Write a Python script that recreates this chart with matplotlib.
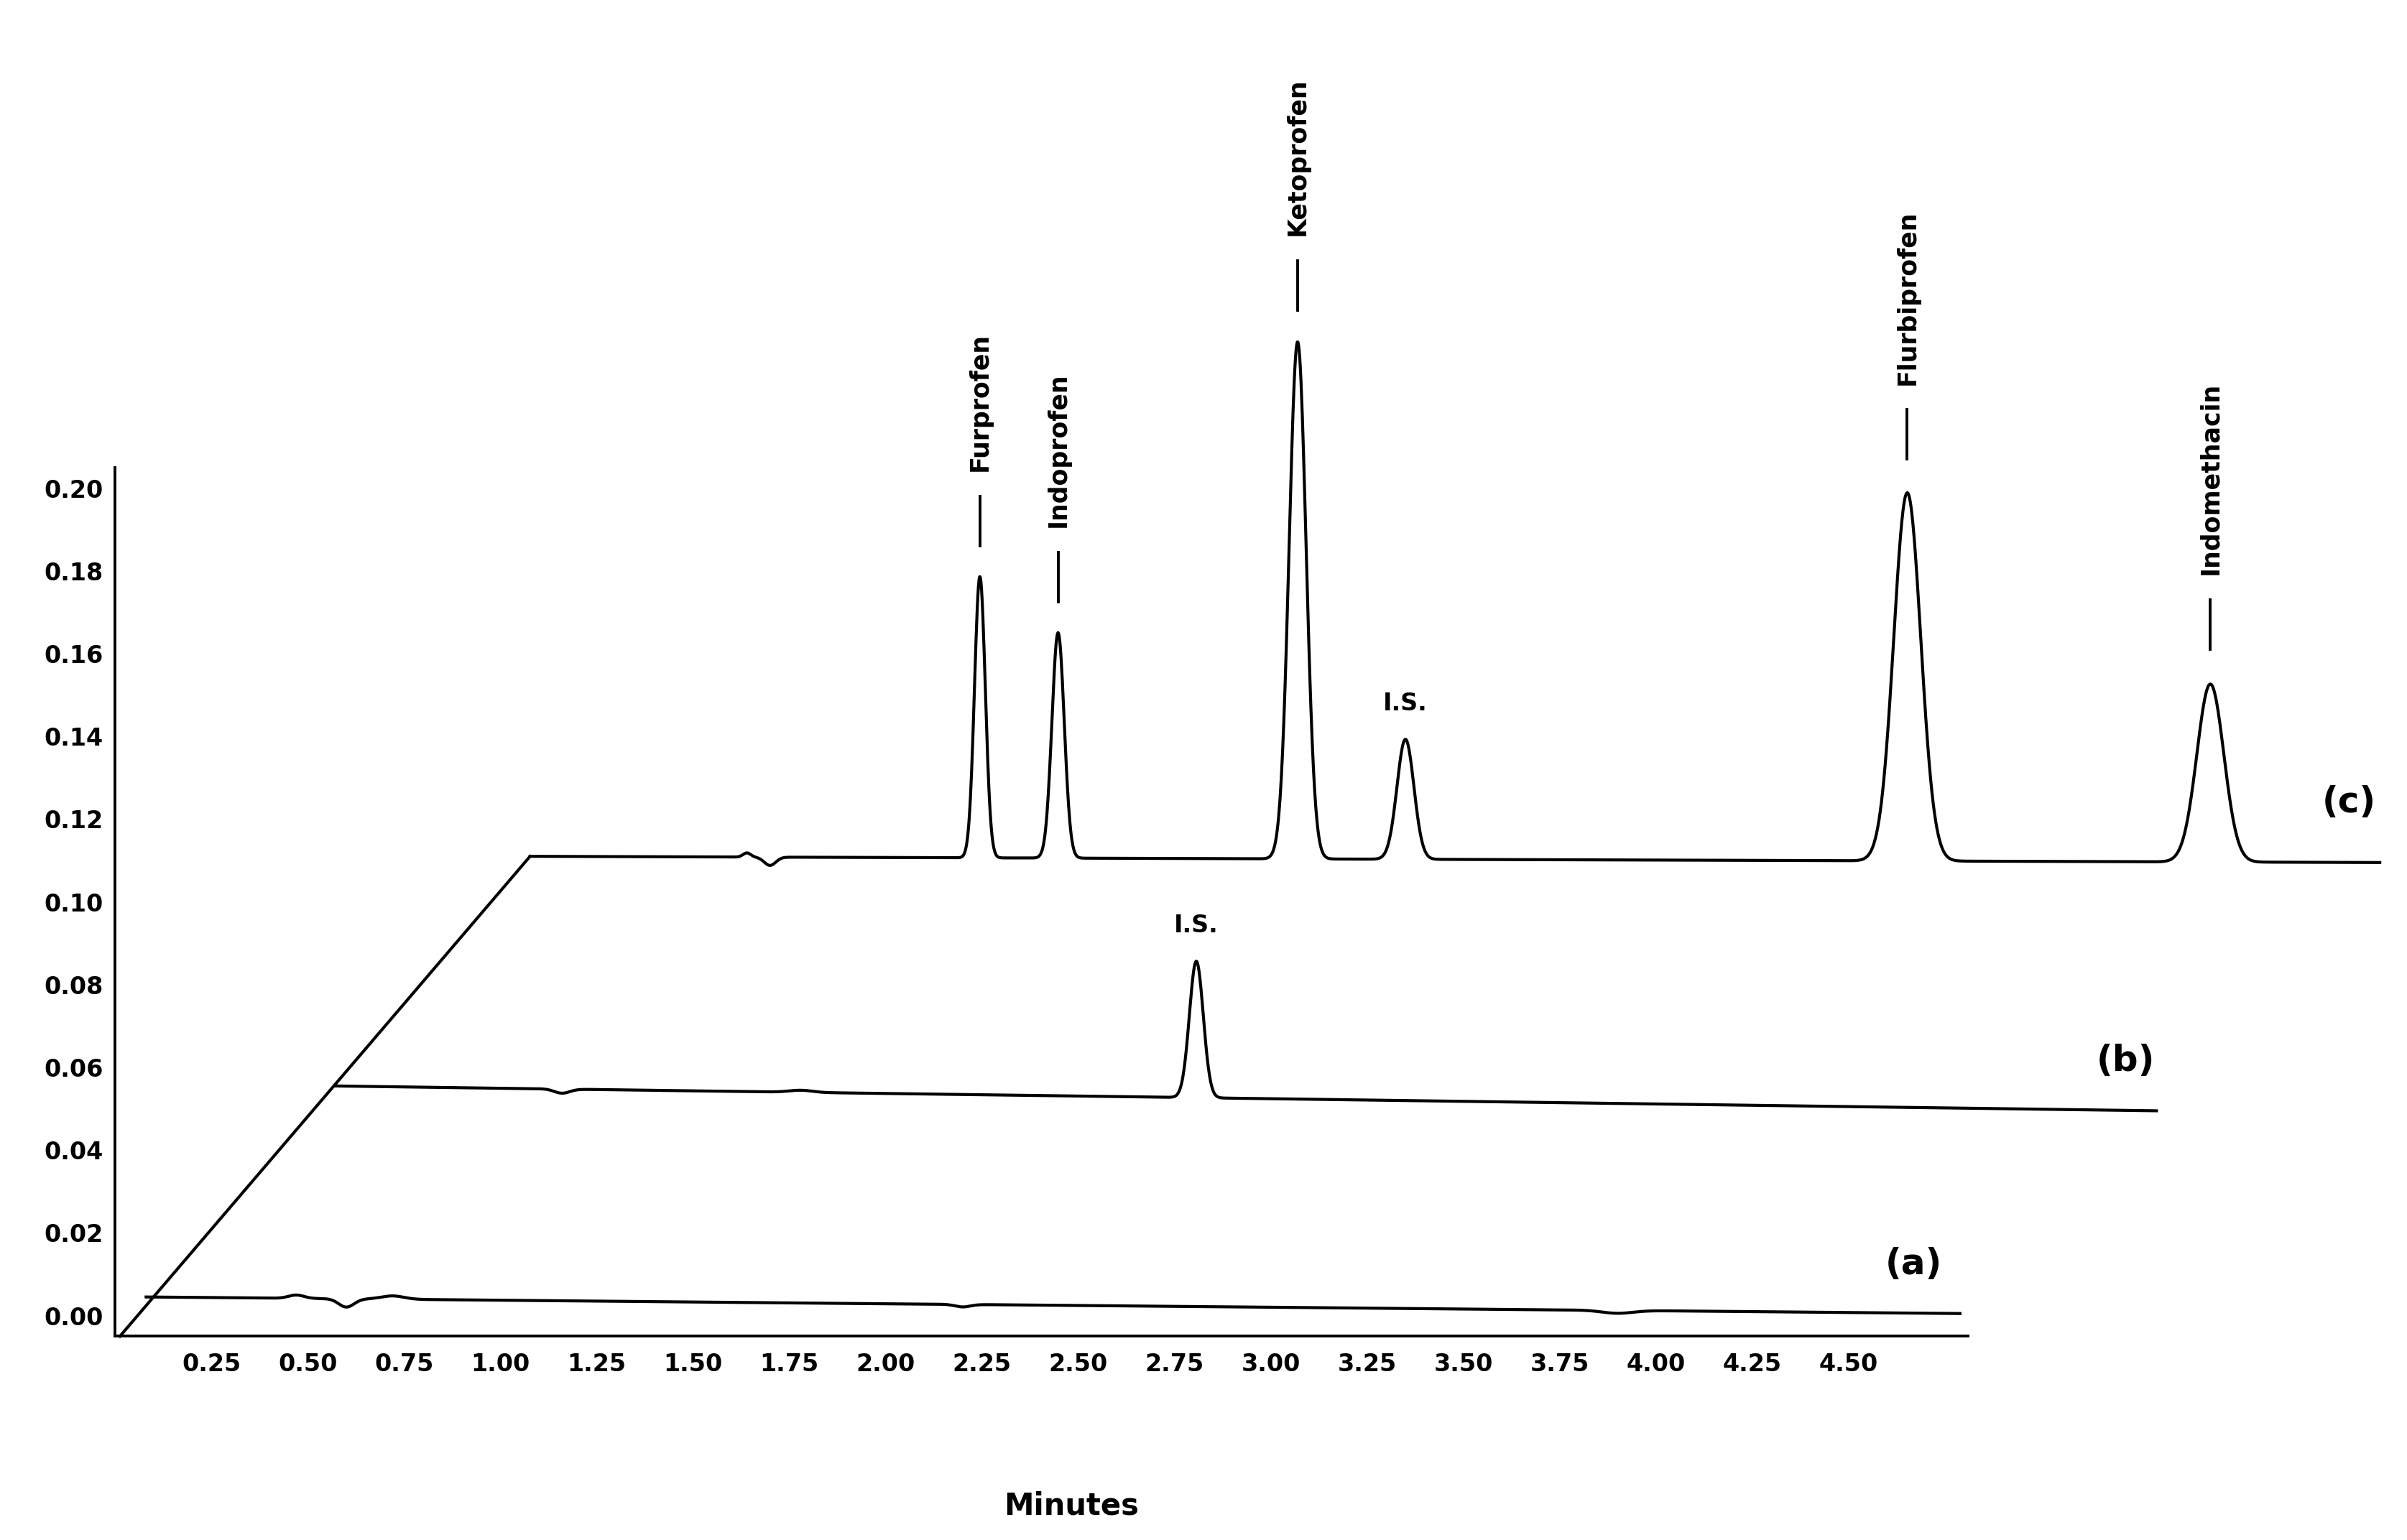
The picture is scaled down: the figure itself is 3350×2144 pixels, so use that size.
import numpy as np
import matplotlib.pyplot as plt

# trace (c): standards + I.S.   (x in axis minutes, already offset)
c_x0, c_x1 = 1.077, 5.88
c_base = [0.111, 0.1095]
c_pos = [2.245, 2.448, 3.07, 3.35, 4.653, 5.44, 1.70, 1.64]
c_h = [0.068, 0.0545, 0.125, 0.029, 0.089, 0.043, -0.002, 0.001]
c_w = [0.014, 0.016, 0.022, 0.022, 0.035, 0.035, 0.015, 0.01]
c_names = ["Furprofen", "Indoprofen", "Ketoprofen", "I.S.", "Flurbiprofen", "Indomethacin"]

# trace (b): blank + I.S.
b_x0, b_x1 = 0.57, 5.30
b_base = [0.0555, 0.0495]
b_pos = [2.807, 1.16, 1.78]
b_h = [0.033, -0.001, 0.0005]
b_w = [0.018, 0.02, 0.03]

# trace (a): blank
a_x0, a_x1 = 0.08, 4.79
a_base = [0.0045, 0.0005]
a_pos = [0.47, 0.60, 0.72, 2.2, 3.9]
a_h = [0.0008, -0.002, 0.0008, -0.0006, -0.0007]
a_w = [0.02, 0.02, 0.03, 0.02, 0.04]

xticks = [0.25, 0.50, 0.75, 1.00, 1.25, 1.50, 1.75, 2.00, 2.25, 2.50, 2.75,
          3.00, 3.25, 3.50, 3.75, 4.00, 4.25, 4.50]
yticks = [0.00, 0.02, 0.04, 0.06, 0.08, 0.10, 0.12, 0.14, 0.16, 0.18, 0.20]


def trace(x0, x1, base, pos, h, w):
    x = np.linspace(x0, x1, 3000)
    y = np.interp(x, [x0, x1], base)
    for p, hh, ww in zip(pos, h, w):
        y = y + hh * np.exp(-0.5 * ((x - p) / ww) ** 2)
    return x, y


fig = plt.figure(figsize=(16.75, 10.72), dpi=200)
ax = fig.add_axes([0.0479, 0.1296, 0.952, 0.849])
for args in [(c_x0, c_x1, c_base, c_pos, c_h, c_w),
             (b_x0, b_x1, b_base, b_pos, b_h, b_w),
             (a_x0, a_x1, a_base, a_pos, a_h, a_w)]:
    x, y = trace(*args)
    ax.plot(x, y, color="black", lw=1.5, clip_on=False)

# diagonal offset line
ax.plot([0.012, c_x0], [-0.005, 0.111], color="black", lw=1.5)

# peak labels for (c)
for name, p, hh in zip(c_names, c_pos, c_h):
    top = 0.111 + hh
    if name == "I.S.":
        ax.text(p, top + 0.005, name, ha="center", va="bottom", fontsize=12, fontweight="semibold")
        continue
    ax.plot([p, p], [top + 0.007, top + 0.019], color="black", lw=1.4)
    ax.text(p, top + 0.025, name, rotation=90, ha="center", va="bottom",
            fontsize=12.5, fontweight="semibold")
ax.text(b_pos[0], 0.0555 + b_h[0] + 0.003, "I.S.", ha="center", va="bottom",
        fontsize=12, fontweight="semibold")

ax.text(4.67, 0.0125, "(a)", fontsize=18, fontweight="bold", ha="center", va="center")
ax.text(5.22, 0.0615, "(b)", fontsize=18, fontweight="bold", ha="center", va="center")
ax.text(5.80, 0.124, "(c)", fontsize=18, fontweight="bold", ha="center", va="center")

ax.set_xlim(0, 5.95)
ax.set_ylim(-0.006, 0.31)
for s in ["top", "right"]:
    ax.spines[s].set_visible(False)
ax.spines["bottom"].set_position(("data", -0.005))
ax.spines["bottom"].set_bounds(0, 4.81)
ax.spines["left"].set_bounds(-0.005, 0.205)
ax.spines["left"].set_linewidth(1.4)
ax.spines["bottom"].set_linewidth(1.4)
ax.set_xticks(xticks)
ax.set_xticklabels(["%.2f" % v for v in xticks])
ax.set_yticks(yticks)
ax.set_yticklabels(["%.2f" % v for v in yticks])
ax.tick_params(length=0, labelsize=12)
ax.tick_params(axis="x", pad=8)
ax.tick_params(axis="y", pad=6)
for lab in ax.get_xticklabels() + ax.get_yticklabels():
    lab.set_fontweight("bold")
fig.text(0.445, 0.022, "Minutes", fontsize=15, fontweight="semibold", ha="center", va="center")

fig.savefig("out.png")
